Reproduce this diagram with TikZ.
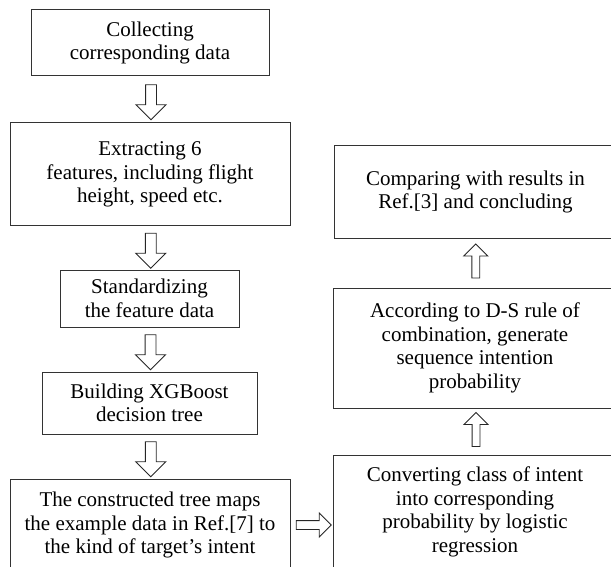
\documentclass[tikz,border=0pt]{standalone}
\usepackage{fontspec}
\setmainfont{Liberation Serif}
\usetikzlibrary{shapes.arrows,calc}
\begin{document}
\begin{tikzpicture}[x=1pt,y=-1pt,
  box/.style={draw=black!80, line width=1pt, align=center, inner sep=0pt,
    font=\fontsize{21}{23.5}\selectfont, text=black},
  fatarrow/.style={single arrow, draw=black!85, line width=0.9pt, inner xsep=0pt,
    single arrow tip angle=90},
  downarr/.style={fatarrow, rotate=-90, inner ysep=5pt, single arrow head extend=9.5pt, minimum height=35pt},
  uparr/.style={fatarrow, rotate=90, inner ysep=3.5pt, single arrow head extend=8pt, minimum height=34pt},
  rightarr/.style={fatarrow, inner ysep=4pt, single arrow head extend=7.5pt, minimum height=35pt}]
\useasboundingbox (0,0) rectangle (611,567);
\clip (0,0) rectangle (611,567);

\node[box, minimum width=238pt, minimum height=66pt] (b1) at (150,43)
  {Collecting\\corresponding data};
\node[box, minimum width=280pt, minimum height=103pt] (b2) at (150,174.5)
  {Extracting 6\\features, including flight\\height, speed etc.};
\node[box, minimum width=179pt, minimum height=57pt] (b3) at (149.5,298.5)
  {Standardizing\\the feature data};
\node[box, minimum width=215pt, minimum height=62pt] (b4) at (149.5,403)
  {Building XGBoost\\decision tree};
\node[box, minimum width=280pt, minimum height=92pt] (b5) at (150,525)
  {The constructed tree maps\\the example data in Ref.[7] to\\the kind of target’s intent};
\node[box, minimum width=284pt, minimum height=114pt] (b6) at (475,512)
  {Converting class of intent\\into corresponding\\probability by logistic\\regression};
\node[box, minimum width=284pt, minimum height=120pt] (b7) at (475,348)
  {According to D-S rule of\\combination, generate\\sequence intention\\probability};
\node[box, minimum width=283pt, minimum height=92pt] (b8) at (475.5,192)
  {Comparing with results in\\Ref.[3] and concluding};

\node[downarr] (a1) at ($(b1.south)!0.5!(b2.north)+(1,0)$) {};
\node[downarr] (a2) at ($(b2.south)!0.5!(b3.north)+(1,0)$) {};
\node[downarr] (a3) at ($(b3.south)!0.5!(b4.north)+(1,0)$) {};
\node[downarr] (a4) at ($(b4.south)!0.5!(b5.north)+(1,0)$) {};
\node[rightarr] (a5) at ($(b5.east)!0.5!(b6.west |- b5.east)$) {};
\node[uparr] (a6) at ($(b6.north)!0.5!(b7.south)+(1,0)$) {};
\node[uparr] (a7) at ($(b7.north)!0.5!(b8.south)+(0.5,0)$) {};
\end{tikzpicture}
\end{document}
